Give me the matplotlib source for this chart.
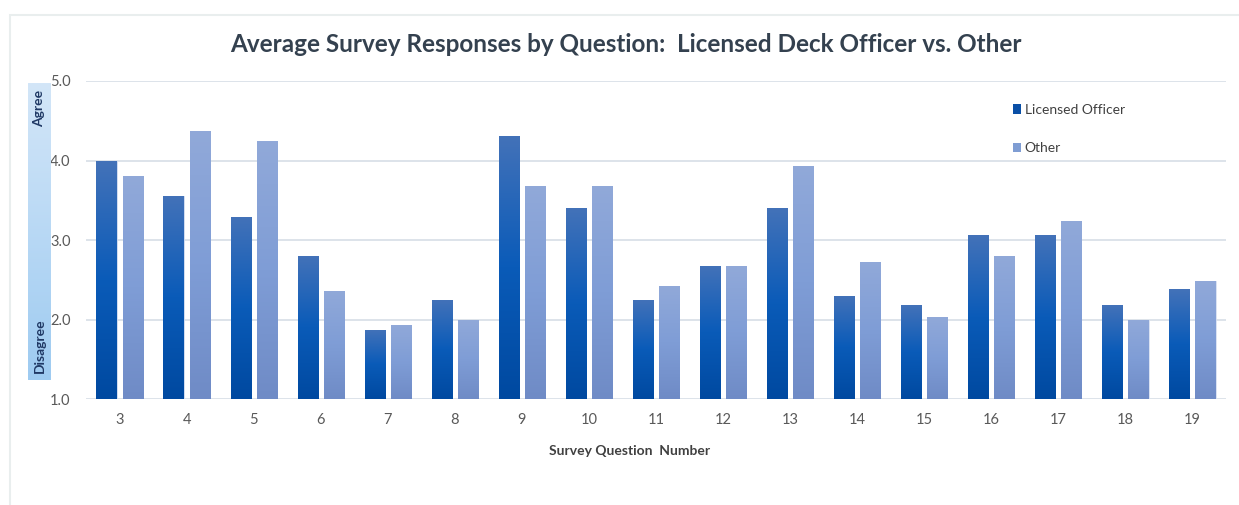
import numpy as np
import matplotlib
matplotlib.use("Agg")
import matplotlib.pyplot as plt
from matplotlib.patches import Rectangle, Patch
from matplotlib.colors import LinearSegmentedColormap

plt.rcParams['font.family'] = ['Lato', 'DejaVu Sans']

# data
questions = [3, 4, 5, 6, 7, 8, 9, 10, 11, 12, 13, 14, 15, 16, 17, 18, 19]
licensed_officer = [3.99, 3.56, 3.29, 2.80, 1.87, 2.25, 4.31, 3.40, 2.25, 2.68,
                    3.40, 2.30, 2.18, 3.06, 3.06, 2.18, 2.38]
other = [3.81, 4.37, 4.24, 2.36, 1.93, 2.00, 3.68, 3.68, 2.43, 2.67,
         3.93, 2.73, 2.04, 2.80, 3.24, 2.00, 2.49]
yticks = [1.0, 2.0, 3.0, 4.0, 5.0]
YMIN = yticks[0]

TEXT_GREY = "#595959"
GRID = "#dde3ea"

lo_cmap = LinearSegmentedColormap.from_list("lo", ["#0049a0", "#0a5bb8", "#4372b9"])
ot_cmap = LinearSegmentedColormap.from_list("ot", ["#6f8bc6", "#7f9dd6", "#91a9d9"])


def gradient_bars(ax, bars, cmap):
    grad = np.linspace(0, 1, 256).reshape(-1, 1)
    for b in bars:
        x0, y0 = b.get_x(), b.get_y()
        w, h = b.get_width(), b.get_height()
        im = ax.imshow(grad, cmap=cmap, origin="lower", aspect="auto",
                       extent=[x0, x0 + w, y0, y0 + h], zorder=b.get_zorder())
        im.set_clip_path(b)
        b.set_facecolor("none")


fig = plt.figure(figsize=(12.39, 5.05), dpi=100)

# light frame around the chart
fig.patches.append(Rectangle((10 / 1239, -0.1), 1.2, 0.1 + (1 - 15 / 505),
                             transform=fig.transFigure, fill=False,
                             edgecolor="#e9eeee", lw=1.5))

ax = fig.add_axes([86 / 1239, 1 - 399.3 / 505, 1140 / 1239, 318.3 / 505])
x = np.arange(len(questions))
width = 0.30
off = 0.195

# bars rise from the axis minimum (1.0), like the Excel original
b1 = ax.bar(x - off, np.array(licensed_officer) - YMIN, width, bottom=YMIN, zorder=3,
            edgecolor="#c9d6ee", linewidth=0.6)
b2 = ax.bar(x + off, np.array(other) - YMIN, width, bottom=YMIN, zorder=3,
            edgecolor="#d3ddf0", linewidth=0.6)
gradient_bars(ax, b1, lo_cmap)
gradient_bars(ax, b2, ot_cmap)

ax.set_xlim(-0.5, len(questions) - 0.5)
ax.set_ylim(YMIN, yticks[-1])
ax.set_yticks(yticks)
ax.set_yticklabels([f"{v:.1f}" for v in yticks])
ax.set_xticks(x)
ax.set_xticklabels([str(q) for q in questions])
ax.tick_params(length=0, colors=TEXT_GREY, labelsize=10.5)
ax.tick_params(axis="y", pad=11)
ax.tick_params(axis="x", pad=10)
ax.yaxis.grid(True, color=GRID, lw=1.4, zorder=0)
for s in ax.spines.values():
    s.set_visible(False)
ax.set_xlabel("Survey Question  Number", fontsize=10, fontweight="bold",
              color="#404040")
ax.xaxis.set_label_coords((630 - 86) / 1140, -0.145)

fig.text(0.505, 1 - 44 / 505, "Average Survey Responses by Question:  Licensed Deck Officer vs. Other",
         ha="center", va="center", fontsize=17.5, fontweight="bold", color="#34414f")

leg = ax.legend(handles=[Patch(facecolor="#0a4fa6", label="Licensed Officer"),
                         Patch(facecolor="#7f9dd3", label="Other")],
                loc="upper left", bbox_to_anchor=(1006 / 1239, 1 - 97 / 505),
                bbox_transform=fig.transFigure, frameon=False, fontsize=10,
                handlelength=0.55, handleheight=0.7, handletextpad=0.3,
                labelspacing=1.9, borderpad=0)
for t in leg.get_texts():
    t.set_color("#404040")

# Agree / Disagree scale strip
sax = fig.add_axes([28 / 1239, 1 - 380 / 505, 23 / 1239, 297 / 505])
strip = LinearSegmentedColormap.from_list("strip", ["#9ecbf1", "#d3e6f8"])
sax.imshow(np.linspace(0, 1, 256).reshape(-1, 1), cmap=strip, origin="lower",
           aspect="auto", extent=[0, 1, 0, 1])
sax.set_axis_off()
sax.text(0.5, 0.915, "Agree", rotation=90, ha="center", va="center",
         fontsize=10, fontweight="bold", color="#1f3864", transform=sax.transAxes)
sax.text(0.5, 0.115, "Disagree", rotation=90, ha="center", va="center",
         fontsize=10, fontweight="bold", color="#1f3864", transform=sax.transAxes)

fig.savefig("out.png", dpi=100)
